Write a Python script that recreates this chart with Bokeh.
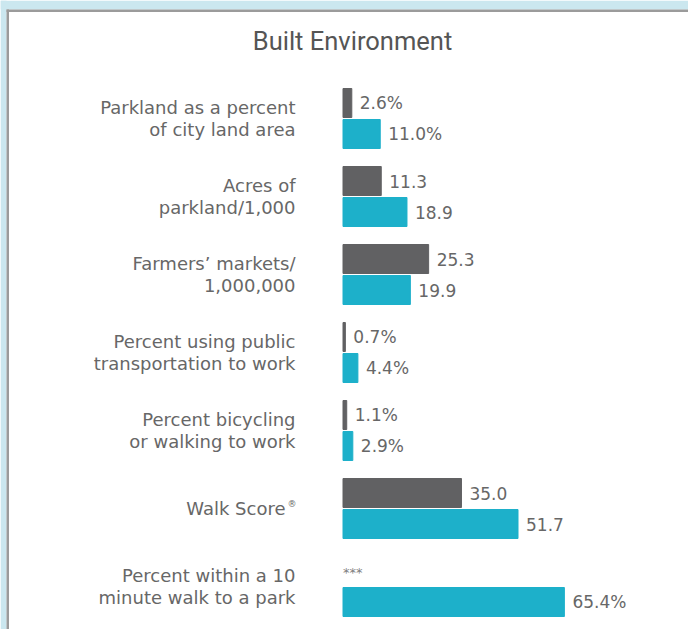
from bokeh.plotting import figure
from bokeh.models import Range1d, ColumnDataSource
from bokeh.core.properties import value
from bokeh.embed import file_html
from bokeh.resources import INLINE

# ---- data ----
title_text = "Built Environment"
categories = [
    "Parkland as a percent\nof city land area",
    "Acres of\nparkland/1,000",
    "Farmers\u2019 markets/\n1,000,000",
    "Percent using public\ntransportation to work",
    "Percent bicycling\nor walking to work",
    "Walk Score",
    "Percent within a 10\nminute walk to a park",
]
city_values = [2.6, 11.3, 25.3, 0.7, 1.1, 35.0, None]
avg_values = [11.0, 18.9, 19.9, 4.4, 2.9, 51.7, 65.4]
value_suffix = ["%", "", "", "%", "%", "", "%"]
missing_mark = "***"
registered_mark = "\u00ae"

# ---- style / layout ----
W, H = 688, 629
PX_PER_UNIT = 3.385
ZERO_PX = 342.5        # canvas x of value 0
GROUP_PX = 78          # vertical pitch between groups
FIRST_CENTER_PX = 118  # canvas y of first group's centre
BAR_OFF = 15.5 / GROUP_PX
BAR_H = 29 / GROUP_PX
GRAY = "#616163"
CYAN = "#1db0ca"
TEXT = "#676767"
FONT = value("DejaVu Sans")
BG_BLUE = "#cbe7ef"
FRAME_GRAY = "#9b9b9b"

x_start = -ZERO_PX / PX_PER_UNIT
x_end = x_start + W / PX_PER_UNIT
y_top = -FIRST_CENTER_PX / GROUP_PX
y_bottom = y_top + H / GROUP_PX


def px_x(px):
    return x_start + px / PX_PER_UNIT


def px_y(py):
    return y_top + py / GROUP_PX


p = figure(width=W, height=H, x_range=Range1d(x_start, x_end),
           y_range=Range1d(y_bottom, y_top), output_backend="svg",
           toolbar_location=None, x_axis_location=None, y_axis_location=None,
           min_border=0, min_border_left=0, min_border_right=0,
           min_border_top=0, min_border_bottom=0)
p.grid.visible = False
p.outline_line_color = None
p.background_fill_color = "white"
p.border_fill_color = "white"

# panel decoration (light blue page edge + grey panel border)
p.quad(left=[px_x(0), px_x(0)], right=[px_x(W), px_x(6)],
       top=[px_y(0), px_y(0)], bottom=[px_y(9), px_y(H)],
       color=BG_BLUE, line_color=None)
p.quad(left=[px_x(6), px_x(6)], right=[px_x(W), px_x(8.5)],
       top=[px_y(9), px_y(9)], bottom=[px_y(11.5), px_y(H)],
       color=FRAME_GRAY, line_color=None)

n = len(categories)
idx = list(range(n))
city_y = [i - BAR_OFF for i in idx]
avg_y = [i + BAR_OFF for i in idx]


def fmt(v, s):
    return f"{v:.1f}{s}"


city_src = ColumnDataSource(dict(
    y=[y for y, v in zip(city_y, city_values) if v is not None],
    r=[v for v in city_values if v is not None],
    t=[fmt(v, s) for v, s in zip(city_values, value_suffix) if v is not None]))
avg_src = ColumnDataSource(dict(
    y=avg_y, r=avg_values,
    t=[fmt(v, s) for v, s in zip(avg_values, value_suffix)]))

p.hbar(y="y", left=0, right="r", height=BAR_H, color=GRAY, source=city_src)
p.hbar(y="y", left=0, right="r", height=BAR_H, color=CYAN, source=avg_src)

for src in (city_src, avg_src):
    p.text(x="r", y="y", text="t", source=src, x_offset=8,
           text_font=FONT, text_font_size="17px", text_color=TEXT,
           text_align="left", text_baseline="middle")

# missing value marker
miss_y = [y for y, v in zip(city_y, city_values) if v is None]
p.text(x=[0] * len(miss_y), y=miss_y, text=[missing_mark] * len(miss_y),
       x_offset=0, y_offset=1, text_font=FONT, text_font_size="13px",
       text_color="#808080", text_align="left", text_baseline="middle")

# category labels
lab_x = px_x(295)
label_src = ColumnDataSource(dict(
    x=[lab_x] * n, y=idx, t=categories,
    xo=[-10 if c == "Walk Score" else 0 for c in categories]))
p.text(x="x", y="y", text="t", x_offset="xo", source=label_src,
       text_font=FONT, text_font_size="18px", text_color=TEXT,
       text_align="right", text_baseline="middle", text_line_height=1.065)
ws = categories.index("Walk Score")
p.text(x=[lab_x], y=[ws], text=[registered_mark], x_offset=-8, y_offset=-5,
       text_font=FONT, text_font_size="9px", text_color=TEXT,
       text_align="left", text_baseline="middle")

# title
p.text(x=[px_x(352)], y=[px_y(40)], text=[title_text],
       text_font=value("Roboto"), text_font_size="25.5px", text_color="#555555",
       text_align="center", text_baseline="middle")

open("out.html", "w").write(file_html(p, INLINE))
